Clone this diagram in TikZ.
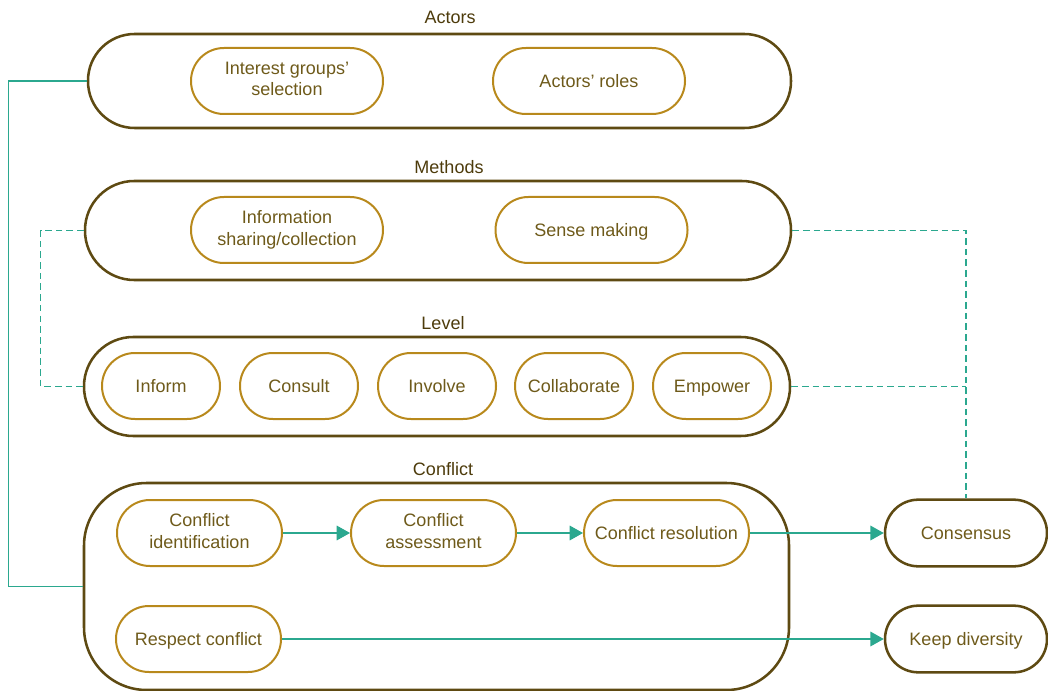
\documentclass[tikz,border=0pt]{standalone}
\usepackage{fontspec}
\setmainfont{Liberation Sans}
\usetikzlibrary{arrows.meta}
\definecolor{outerc}{HTML}{5E4A12}
\definecolor{innerc}{HTML}{B8891C}
\definecolor{textc}{HTML}{6E5A1A}
\definecolor{titlec}{HTML}{4D3B0B}
\definecolor{tealc}{HTML}{2BA88F}
% invisible rule, 12.7pt above and 3pt below the baseline, so that
% the capitals of a line sit in the middle of the box
\newcommand{\capstrut}{\rule[-3pt]{0pt}{15.7pt}}
\begin{document}
\begin{tikzpicture}[x=0.75pt,y=-0.75pt,
  font=\fontsize{13.5}{16}\selectfont,
  group/.style={draw=outerc,line width=1.9pt,fill=none,inner sep=0pt},
  item/.style={draw=innerc,line width=1.5pt,text=textc,align=center,
    minimum height=49.5pt,rounded corners=24.7pt,inner sep=2pt,
    execute at begin node=\capstrut},
  wide/.style={item,minimum width=144pt},
  lvl/.style={item,minimum width=88.5pt},
  cfl/.style={item,minimum width=123.75pt},
  outcome/.style={item,draw=outerc,line width=1.9pt,minimum width=121.5pt,minimum height=50pt,rounded corners=25pt},
  title/.style={text=titlec},
  link/.style={draw=tealc,line width=0.9pt},
  flow/.style={link,-{Triangle[length=10pt,width=11pt]}},
  dashlink/.style={link,dash pattern=on 5pt off 3pt}]
\useasboundingbox (0,0) rectangle (1048,691);

% group frames
\node[group,minimum width=527.25pt,minimum height=70.5pt,rounded corners=35pt] (actors) at (439.5,81) {};
\node[group,minimum width=529.5pt,minimum height=74.25pt,rounded corners=37pt] (methods) at (438,230.5) {};
\node[group,minimum width=529.5pt,minimum height=74.25pt,rounded corners=37pt] (level) at (437,386.5) {};
\node[group,minimum width=528.75pt,minimum height=155.25pt,rounded corners=47pt] (conflict) at (436.5,586.5) {};

% group titles
\node[title] (tactors) at (450,17) {Actors};
\node[title] (tmethods) at (449,167) {Methods};
\node[title] (tlevel) at (443,323) {Level};
\node[title] (tconflict) at (443,469) {Conflict};

% actors
\node[wide] (interest) at (287,81) {Interest groups’\\selection\capstrut};
\node[wide] (roles) at (589,81) {Actors’ roles};

% methods
\node[wide] (info) at (287,230) {Information\\sharing/collection\capstrut};
\node[wide] (sense) at (591.5,230) {Sense making};

% level
\node[lvl] (inform) at (161,386) {Inform};
\node[lvl] (consult) at (299,386) {Consult};
\node[lvl] (involve) at (437,386) {Involve};
\node[lvl] (collab) at (574,386) {Collaborate};
\node[lvl] (empower) at (712,386) {Empower};

% conflict
\node[cfl] (ident) at (199.5,533) {Conflict\\identification\capstrut};
\node[cfl] (assess) at (433.5,533) {Conflict\\assessment\capstrut};
\node[cfl] (resol) at (666.5,533) {Conflict resolution};
\node[cfl] (respect) at (198.5,639) {Respect conflict};

% outcomes
\node[outcome] (consensus) at (966,533) {Consensus};
\node[outcome] (diversity) at (966,639) {Keep diversity};

% connectors
\draw[link] (actors.west) -- ++(-78,0) |- (conflict.west);
\draw[dashlink] (methods.west) -- ++(-43,0) |- (level.west);
\draw[dashlink] (methods.east) -| (consensus.north);
\draw[dashlink] (level.east) -- (consensus.north |- level.east);
\draw[flow] (ident) -- (assess);
\draw[flow] (assess) -- (resol);
\draw[flow] (resol) -- (consensus);
\draw[flow] (respect) -- (diversity);
\end{tikzpicture}
\end{document}
